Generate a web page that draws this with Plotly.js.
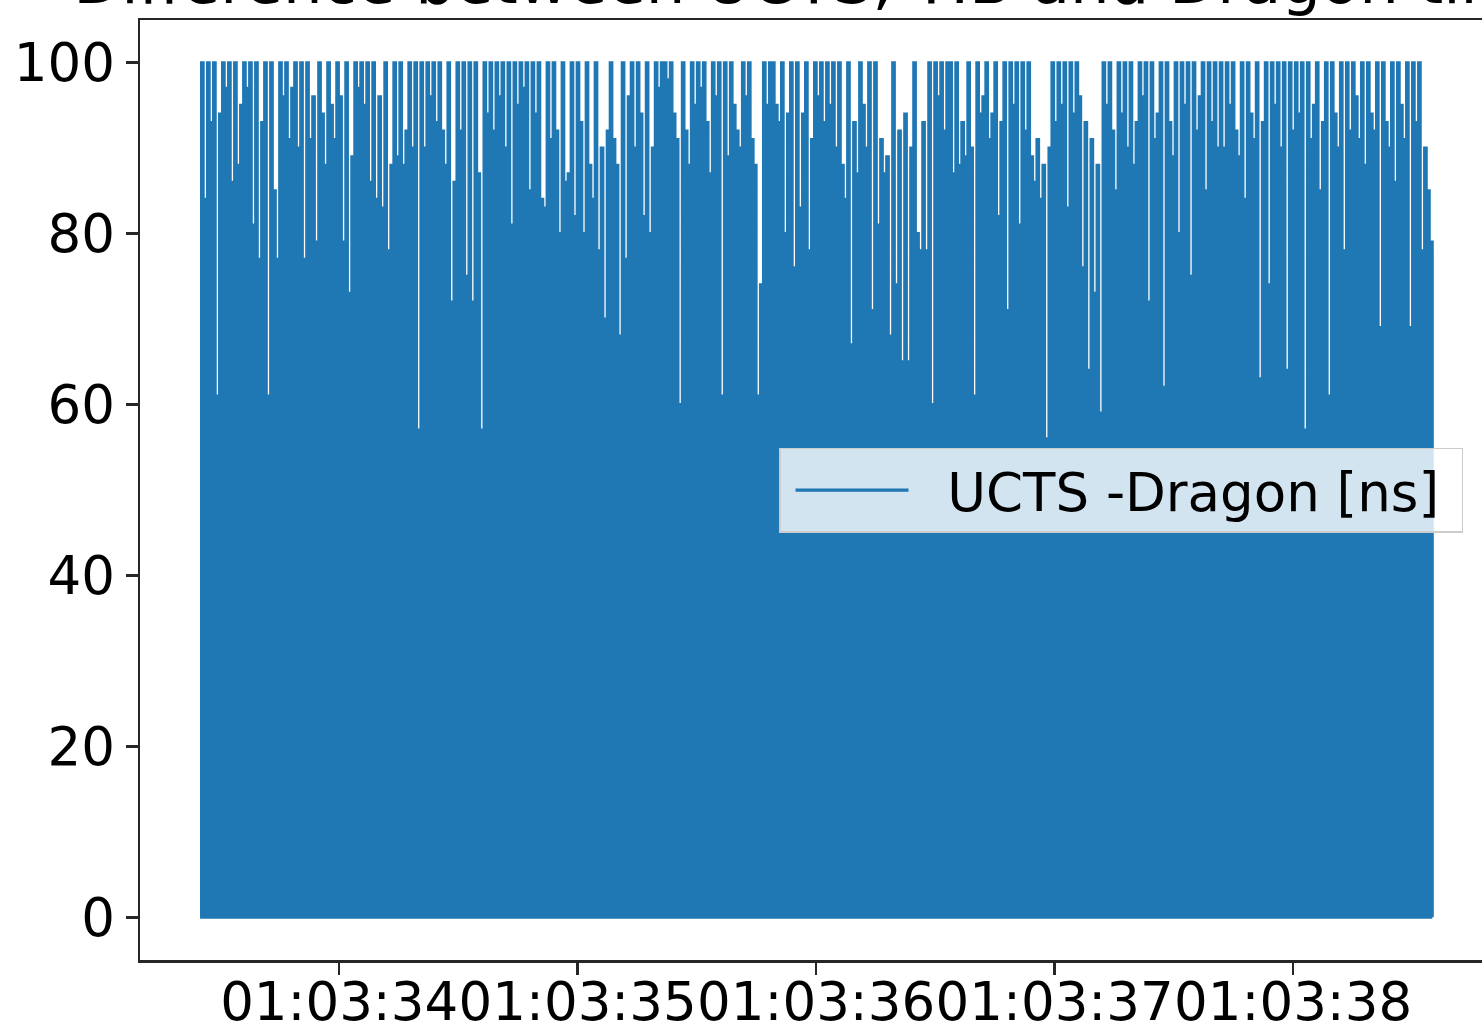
<!DOCTYPE html>
<html><head><meta charset="utf-8">
<script src="https://cdn.plot.ly/plotly-3.0.1.min.js"></script>
<style>
html,body{margin:0;padding:0;overflow:hidden;background:#fff;width:1482px;height:1025px}
#chart{position:absolute;left:0;top:-80px;width:1600px;height:1150px}
</style>
</head><body><div id="chart"></div>
<script>
// ---- data ----
const chartTitle = 'Difference between UCTS, TIB and Dragon time';
const seriesName = 'UCTS -Dragon [ns]';
const day = '2019-11-23';
const startTime = '01:03:33.417';
const endTime = '01:03:38.583';
const xRange = ['01:03:33.165', '01:03:38.838'];
const xTickLabels = ['01:03:34', '01:03:35', '01:03:36', '01:03:37', '01:03:38'];
const yTickValues = [0, 20, 40, 60, 80, 100];
const yRange = [-5, 105];
const troughValue = 0;
const peakValues = [
 100, 84,100, 93,100, 61, 94,100, 97,100,
  86,100, 88, 95,100, 97,100, 81,100, 77,
  93,100, 61,100, 85, 77,100, 96,100, 91,
  97,100, 90,100, 77,100, 91, 96, 79,100,
  94, 88,100, 95, 91,100, 96, 79,100, 73,
  89,100, 97,100, 95,100, 86,100, 84, 96,
  83,100, 78, 88,100, 89,100, 88, 92,100,
  90,100, 57,100, 90,100, 96,100, 93,100,
  92, 88,100, 72, 86,100, 92,100, 75,100,
  72,100, 87, 57,100, 94,100, 92,100, 96,
 100, 90,100, 81,100, 95,100, 97,100, 85,
 100, 94,100, 84, 83,100, 91,100, 92, 80,
 100, 86, 87,100, 82,100, 93, 80,100, 88,
  84,100, 78, 90, 70, 92,100, 91, 88, 68,
 100, 77, 96,100, 90,100, 94, 82,100, 80,
  90,100, 97,100,100, 98,100, 94, 91, 60,
 100, 92, 88,100, 95,100, 97,100, 93, 87,
 100, 96,100, 61,100, 89,100, 95, 92, 90,
 100, 96,100, 91, 88, 61, 74,100, 95,100,
 100, 95, 93,100, 80, 94,100, 76,100, 83,
  94,100, 78, 91,100, 96,100, 93,100, 95,
 100, 90,100, 88, 84,100, 67, 93, 87,100,
  95, 90,100, 71,100, 81, 91, 87, 89, 68,
 100, 74, 92, 65, 94, 65, 90,100, 80, 78,
  93, 78,100, 60,100, 96,100, 92,100,100,
  87,100, 88, 93, 89,100, 90, 61,100, 94,
  96,100, 91, 94,100, 82, 93,100, 71,100,
  95,100, 81,100, 92,100, 89, 86, 91, 84,
  88, 56, 90,100, 93,100, 95,100, 83,100,
  94,100, 96, 76, 93, 64, 91, 73, 88, 59,
 100, 95,100, 92, 85,100, 94,100, 90,100,
  88, 93,100, 96,100, 72,100, 91, 94,100,
  62,100, 93, 89,100, 80,100, 95,100, 75,
 100, 92, 96,100, 85,100, 93,100, 90,100,
  90,100, 95,100, 92, 89,100, 84,100, 94,
  91,100, 63, 93,100, 74,100, 95,100, 90,
 100, 64,100, 92,100, 94,100, 57,100, 91,
  95,100, 85, 93,100, 61,100, 94, 90,100,
  78,100, 92,100, 96, 91,100, 88,100, 94,
  92,100, 69,100, 93, 90,100, 86,100, 95,
  91,100, 69,100, 93,100, 78, 90, 85, 79
];

// ---- build the series ----
function toMs(hms) {
  const [h, m, s] = hms.split(':');
  const [Y, M, D] = day.split('-').map(Number);
  return Date.UTC(Y, M - 1, D, +h, +m, 0) + Math.round(parseFloat(s) * 1000);
}
const yVals = [];
peakValues.forEach(p => { yVals.push(troughValue, p); });
yVals.push(troughValue);
const t0 = toMs(startTime), t1 = toMs(endTime);
const xVals = yVals.map((_, i) => t0 + (t1 - t0) * i / (yVals.length - 1));

const axisCommon = {
  showline: true, mirror: true, linecolor: '#262626', linewidth: 2.5,
  ticks: 'outside', ticklen: 12, tickwidth: 2.5, tickcolor: '#262626',
  showgrid: false, zeroline: false,
  tickfont: { size: 53, color: '#000', family: 'DejaVu Sans' }
};

const trace = {
  type: 'scatter', mode: 'lines',
  name: '\u00a0\u00a0' + seriesName + '\u00a0',
  x: xVals, y: yVals,
  line: { color: '#1f77b4', width: 3.2, shape: 'hv', simplify: false }
};

const layout = {
  width: 1600, height: 1150,
  margin: { l: 140, r: 107, t: 100, b: 110, pad: 0 },
  paper_bgcolor: '#fff', plot_bgcolor: '#fff',
  font: { family: 'DejaVu Sans', color: '#000' },
  title: { text: chartTitle, font: { size: 62.5, color: '#000', family: 'DejaVu Sans' },
           x: 0.5, xref: 'paper', xanchor: 'center', y: 1, yref: 'paper', yanchor: 'bottom', pad: { b: 17 } },
  showlegend: true,
  legend: { x: 0.4723, y: 0.545, xanchor: 'left', yanchor: 'top',
            bgcolor: 'rgba(255,255,255,0.8)', bordercolor: '#cccccc', borderwidth: 1.5,
            font: { size: 53, color: '#000', family: 'DejaVu Sans' },
            itemwidth: 113, indentation: 10 },
  xaxis: Object.assign({}, axisCommon, {
    type: 'date',
    range: xRange.map(t => day + ' ' + t),
    tickvals: xTickLabels.map(t => day + ' ' + t),
    ticktext: xTickLabels, tickangle: 0, ticklabelstandoff: -18
  }),
  yaxis: Object.assign({}, axisCommon, {
    range: yRange, tickvals: yTickValues, ticktext: yTickValues.map(String)
  })
};

Plotly.newPlot('chart', [trace], layout, { displayModeBar: false, staticPlot: true });
</script>
</body></html>
